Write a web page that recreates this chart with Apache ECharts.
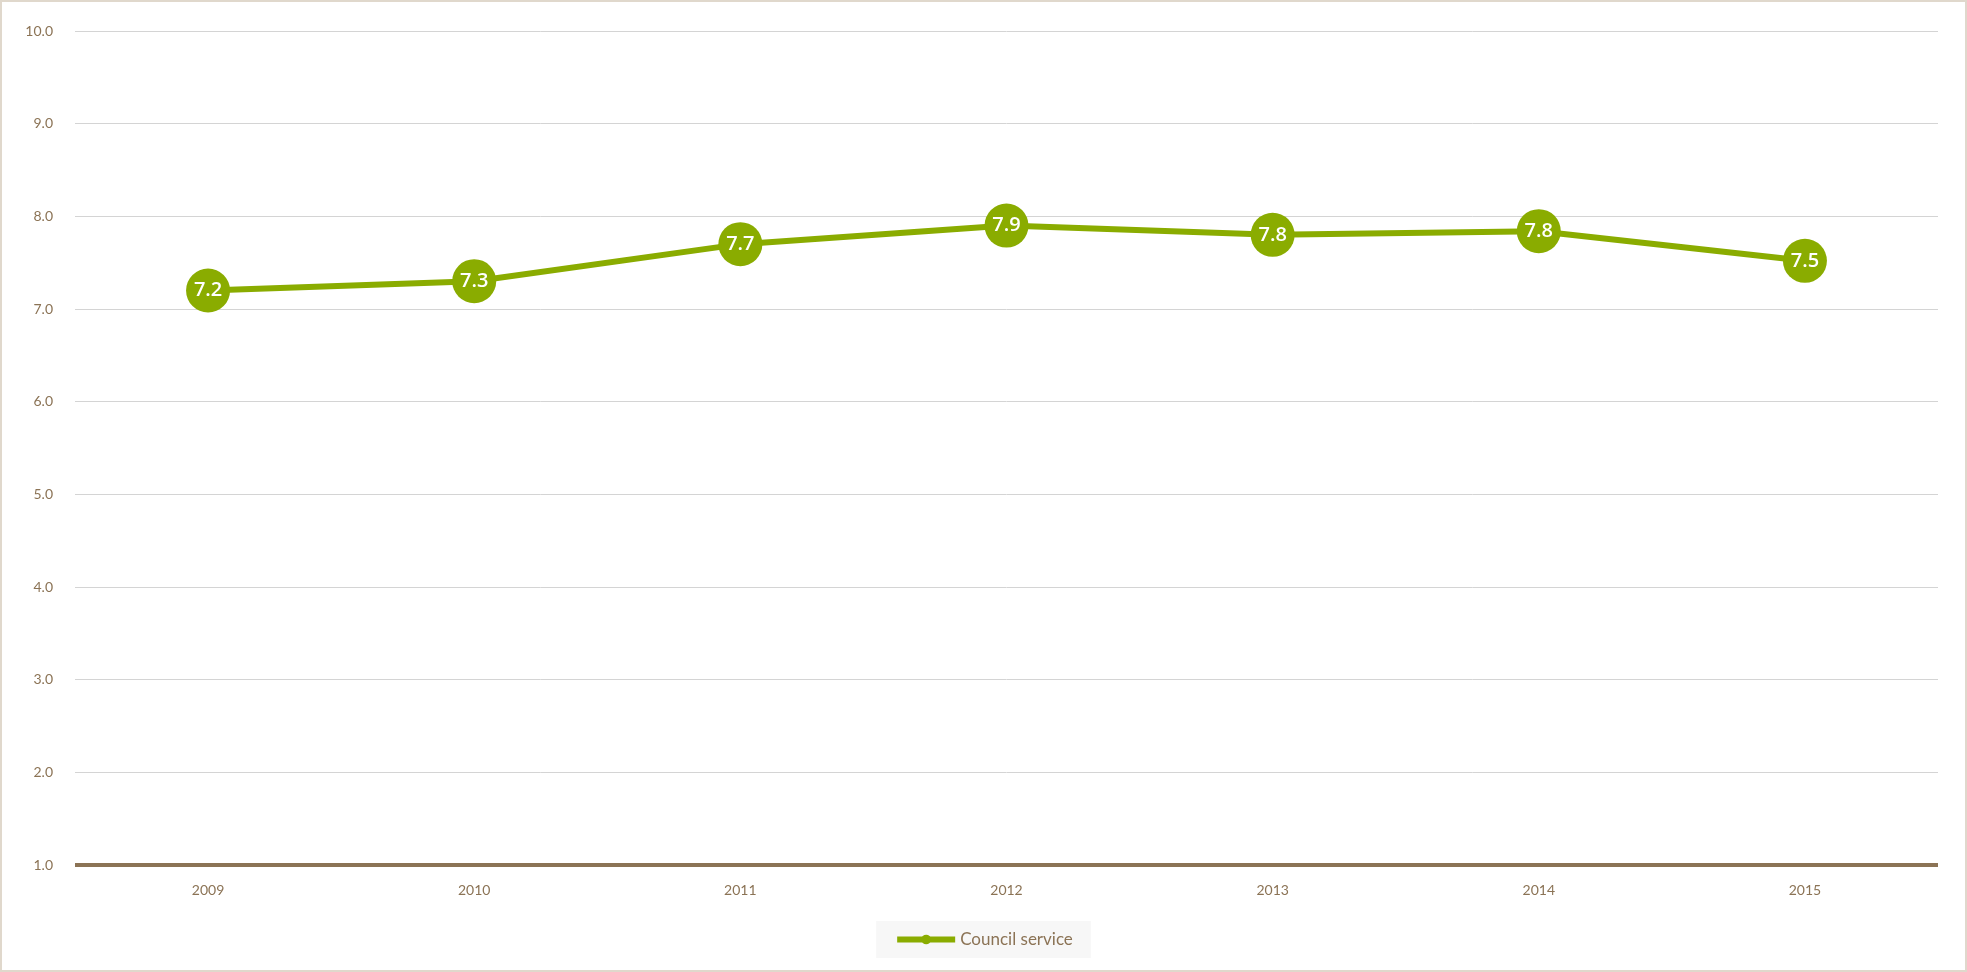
<!DOCTYPE html>
<html><head><meta charset="utf-8">
<script src="https://cdn.jsdelivr.net/npm/echarts@6/dist/echarts.min.js"></script>
<style>
html,body{margin:0;padding:0;background:#fff;}
#c{position:absolute;left:0;top:0;width:1963px;height:968px;border:2px solid #e0d8cc;}
</style></head><body>
<div id="c"></div>
<script>
const categories = ['2009','2010','2011','2012','2013','2014','2015'];
const councilService = [7.2, 7.3, 7.7, 7.9, 7.8, 7.84, 7.52];
const seriesName = 'Council service';

const brown = '#8b7355';
const green = '#8aac00';
const chart = echarts.init(document.getElementById('c'));
chart.setOption({
  animation:false,
  grid:{left:73,right:27,top:29,bottom:105},
  legend:{
    bottom:12, left:'center',
    backgroundColor:'#f7f7f7', padding:[10,18,10,18],
    itemWidth:58, itemHeight:12, itemGap:4,
    lineStyle:{width:6},
    textStyle:{color:brown,fontSize:17,fontFamily:'Lato'},
    data:[seriesName]
  },
  xAxis:{type:'category',data:categories,
    axisLine:{show:false},axisTick:{show:false},
    axisLabel:{color:brown,fontSize:14,fontFamily:'Lato',margin:18}
  },
  yAxis:{type:'value',min:1,max:10,interval:1,
    axisLabel:{color:brown,fontSize:14,fontFamily:'Lato',margin:22,formatter:v=>v.toFixed(1)},
    axisLine:{show:false},axisTick:{show:false},
    splitLine:{lineStyle:{color:'#d4d4d4',width:1}}
  },
  series:[{
    name:seriesName,type:'line',data:councilService,
    symbol:'circle',symbolSize:44,
    lineStyle:{color:green,width:6},
    itemStyle:{color:green},
    label:{show:true,position:'inside',color:'#fff',fontSize:20,fontWeight:600,fontFamily:'Open Sans',
      formatter:p=>p.value.toFixed(1)},
    markLine:{silent:true,symbol:'none',label:{show:false},
      lineStyle:{color:brown,width:4,type:'solid'},data:[{yAxis:1}]}
  }]
});
</script></body></html>
